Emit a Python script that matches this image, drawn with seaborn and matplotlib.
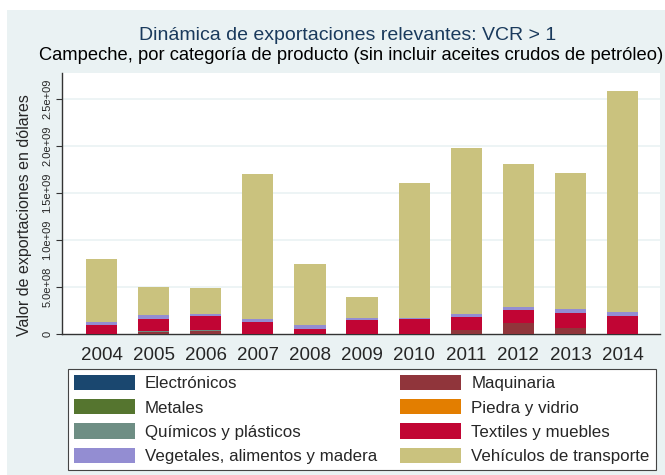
import matplotlib
matplotlib.use("Agg")
import matplotlib.pyplot as plt
import numpy as np
import pandas as pd
import seaborn as sns
from matplotlib.patches import Patch, Rectangle

# datos (dólares)
years = ["2004", "2005", "2006", "2007", "2008", "2009", "2010", "2011", "2012", "2013", "2014"]
categories = ["Electrónicos", "Maquinaria", "Metales", "Piedra y vidrio",
              "Químicos y plásticos", "Textiles y muebles",
              "Vegetales, alimentos y madera", "Vehículos de transporte"]
electronicos = [0, 0, 0, 0, 0, 0, 0, 0, 0, 0, 0]
maquinaria = [0, 0.25e8, 0.35e8, 0, 0.05e8, 0, 0, 0.43e8, 1.14e8, 0.60e8, 0]
metales = [0, 0, 0, 0, 0, 0, 0, 0, 0, 0, 0]
piedra = [0, 0, 0, 0, 0, 0, 0, 0, 0, 0, 0]
quimicos = [0, 0.08e8, 0.08e8, 0, 0, 0, 0, 0, 0, 0, 0]
textiles = [0.96e8, 1.31e8, 1.52e8, 1.31e8, 0.53e8, 1.49e8, 1.60e8, 1.42e8, 1.38e8, 1.66e8, 1.92e8]
vegetales = [0.28e8, 0.39e8, 0.18e8, 0.28e8, 0.35e8, 0.25e8, 0.14e8, 0.28e8, 0.35e8, 0.35e8, 0.43e8]
vehiculos = [6.74e8, 3.00e8, 2.80e8, 15.5e8, 6.52e8, 2.16e8, 14.36e8, 17.67e8, 15.23e8, 14.49e8, 23.55e8]
yticks = [0, 5e8, 1e9, 1.5e9, 2e9, 2.5e9]
ytick_labels = ["0", "5.0e+08", "1.0e+09", "1.5e+09", "2.0e+09", "2.5e+09"]

colors = ["#1a476f", "#90353b", "#55752f", "#e37e00",
          "#6e8e84", "#c10534", "#938dd2", "#cac27e"]
bg = "#eaf2f3"

df = pd.DataFrame({"year": years})
for cat, vals in zip(categories, [electronicos, maquinaria, metales, piedra,
                                  quimicos, textiles, vegetales, vehiculos]):
    df[cat] = vals
cum = df[categories].cumsum(axis=1)
cum["year"] = df["year"]

sns.set_theme(style="white")
plt.rcParams["font.family"] = ["Liberation Sans", "DejaVu Sans"]

fig = plt.figure(figsize=(6.65, 4.75), dpi=100, facecolor="white")
fig.patches.append(Rectangle((7 / 665, 0), 1 - 7 / 665, 1 - 10 / 475,
                             transform=fig.transFigure, facecolor=bg,
                             edgecolor="none", zorder=-10))
ax = fig.add_axes([62 / 665, 1 - 334 / 475, (660 - 62) / 665, (334 - 73) / 475])
ax.set_facecolor("white")

# barras apiladas: se dibujan los acumulados de arriba hacia abajo
for i in range(len(categories) - 1, -1, -1):
    sns.barplot(data=cum, x="year", y=categories[i], color=colors[i],
                width=0.6, saturation=1, linewidth=0, ax=ax, zorder=3)

ax.set_xlim(-0.76, 10.72)
ax.set_ylim(0, 2.78e9)
ax.set_yticks(yticks)
ax.set_yticklabels(ytick_labels, rotation=90, va="center", fontsize=8)
ax.tick_params(axis="y", length=4, width=0.8, color="#333333", pad=3, left=True)
ax.tick_params(axis="x", length=0, pad=9, labelsize=13.5)
for y in yticks[1:]:
    ax.axhline(y, color=bg, linewidth=1.2, zorder=1)
for s in ["top", "right"]:
    ax.spines[s].set_visible(False)
for s in ["left", "bottom"]:
    ax.spines[s].set_color("#333333")
    ax.spines[s].set_linewidth(1.0)
ax.set_xlabel("")
ax.set_ylabel("Valor de exportaciones en dólares", fontsize=11.5)
ax.yaxis.set_label_coords(-0.05, 0.456)

fig.text(0.523, 1 - 35 / 475, "Dinámica de exportaciones relevantes: VCR > 1",
         ha="center", va="center", fontsize=14, color="#1a3a5c")
fig.text(0.528, 1 - 56 / 475,
         "Campeche, por categoría de producto (sin incluir aceites crudos de petróleo)",
         ha="center", va="center", fontsize=13.2, color="black")

order = [0, 2, 4, 6, 1, 3, 5, 7]
handles = [Patch(facecolor=colors[i], edgecolor="none") for i in order]
labels = [categories[i] for i in order]
leg = fig.legend(handles, labels, ncol=2, loc="upper left",
                 bbox_to_anchor=(68 / 665, 1 - 369 / 475), fontsize=12.2,
                 frameon=True, fancybox=False, handlelength=3.6,
                 handleheight=1.0, handletextpad=0.59, labelspacing=0.46,
                 columnspacing=1.36, borderpad=0.36, borderaxespad=0)
leg.get_frame().set_edgecolor("#444444")
leg.get_frame().set_linewidth(0.8)
leg.get_frame().set_facecolor("white")
leg.get_frame().set_alpha(1)

fig.savefig("out.png", dpi=100, facecolor=fig.get_facecolor())
